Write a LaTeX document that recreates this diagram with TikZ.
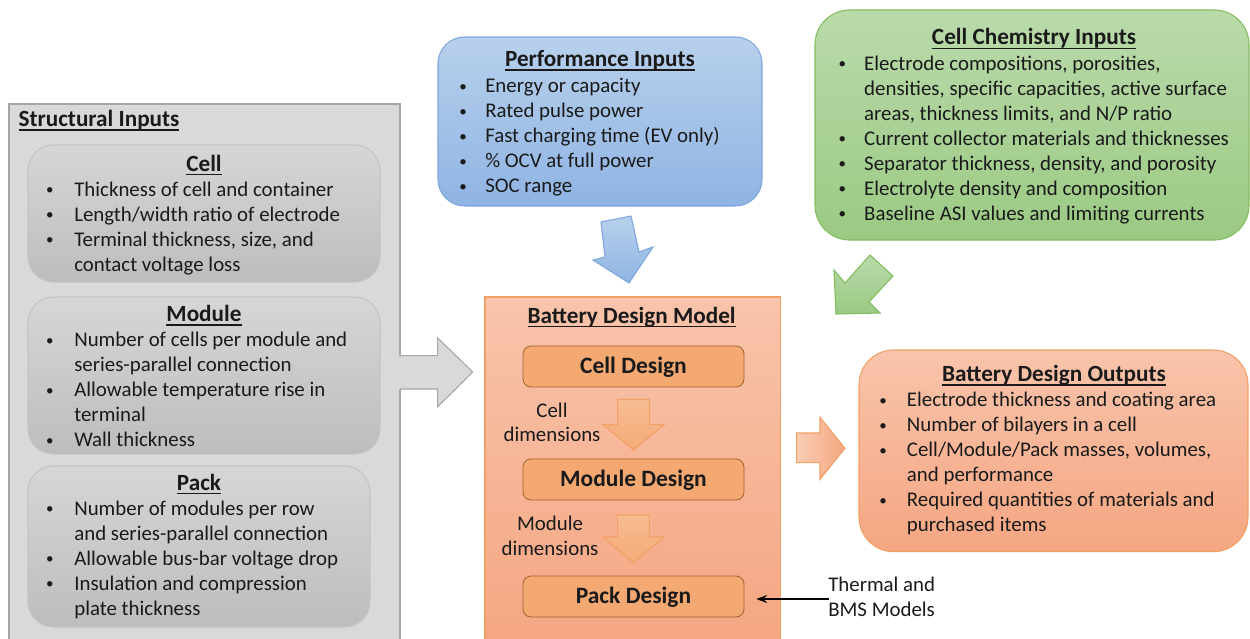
\documentclass[tikz,border=0pt]{standalone}
\usepackage{fontspec}
\usepackage{graphicx}
\setmainfont{Carlito}
\usetikzlibrary{fit,arrows.meta}
\definecolor{txt}{HTML}{1A1A1A}
\definecolor{sgrey}{HTML}{D9D9D9}
\definecolor{sgreyb}{HTML}{A6A6A6}
\definecolor{ggtop}{HTML}{D6D6D6}
\definecolor{ggbot}{HTML}{BDBDBD}
\definecolor{ggb}{HTML}{C4C4C4}
\definecolor{btop}{HTML}{B8D0EC}
\definecolor{bbot}{HTML}{8FB4E3}
\definecolor{bb}{HTML}{7EA6DC}
\definecolor{gtop}{HTML}{BADAAB}
\definecolor{gbot}{HTML}{9BCA83}
\definecolor{gb}{HTML}{82BC60}
\definecolor{otop}{HTML}{F8C4AB}
\definecolor{obot}{HTML}{F5A682}
\definecolor{ob}{HTML}{F2A064}
\definecolor{dfill}{HTML}{F4A972}
\definecolor{db}{HTML}{A3612F}
\definecolor{atop}{HTML}{F7BC92}
\definecolor{abot}{HTML}{F4AA76}
\definecolor{alight}{HTML}{F9CDB3}
\newcommand{\ttl}[1]{\setbox0\hbox{#1}\rlap{\rule[-3pt]{\wd0}{1.1pt}}\box0}
\newcommand{\blist}[2]{\begin{tabular}[t]{@{}p{#1}@{}l@{}}#2\end{tabular}}
\newcommand{\bdot}{\hspace{0.8pt}\raisebox{0.9pt}{\scalebox{0.72}{\textbullet}}}
\newcommand{\bl}{\bdot &}
\tikzset{
  every node/.style={text=txt, inner sep=0pt},
  title/.style={font=\fontsize{17.4}{20}\selectfont\bfseries},
  lst/.style={anchor=base west, font=\fontsize{15.65}{18.75}\selectfont},
  outerbox/.style={draw=sgreyb, fill=sgrey, line width=0.8pt},
  greybox/.style={draw=ggb, top color=ggtop, bottom color=ggbot, rounded corners=19pt, line width=0.8pt},
  bluebox/.style={draw=bb, top color=btop, bottom color=bbot, rounded corners=20pt, line width=0.8pt},
  greenbox/.style={draw=gb, top color=gtop, bottom color=gbot, rounded corners=26pt, line width=0.8pt},
  modelbox/.style={draw=ob, top color=otop, bottom color=obot, line width=0.8pt},
  outbox/.style={draw=ob, top color=otop, bottom color=obot, rounded corners=26pt, line width=0.8pt},
  designbox/.style={draw=db, fill=dfill, rounded corners=6pt, line width=0.6pt},
  dtext/.style={anchor=base, font=\fontsize{17.6}{20}\selectfont\bfseries},
  blockarrow/.style={line width=0.8pt, line join=miter},
  conn/.style={draw=black, line width=1.4pt, -{Stealth[length=8pt,width=6pt]}},
  dimlabel/.style={anchor=base, font=\fontsize{15.65}{18.3}\selectfont},
}
\begin{document}
\begin{tikzpicture}[x=0.75pt,y=-0.75pt]
\useasboundingbox (0,0) rectangle (1250,639);

% ---------- Structural inputs ----------
\node[outerbox, fit={(9,104)(400,642)}] (struct) {};
\fill[sgrey] (398,355.7) -- (437.7,355.7) -- (437.7,338) -- (472.7,372) -- (437.7,406.7) -- (437.7,389) -- (398,389) -- cycle;
\draw[sgreyb, blockarrow] (400,355.7) -- (437.7,355.7) -- (437.7,338) -- (472.7,372) -- (437.7,406.7) -- (437.7,389) -- (400,389);
\node[title, anchor=base west] (structt) at (18.3,126.7) {\ttl{Structural Inputs}};

\node[greybox, fit={(28,145)(380,282)}] (cellin) {};
\node[title, anchor=base] (cellh) at (204,171) {\ttl{Cell}};
\node[lst] (celll) at (44.7,196) {\blist{22pt}{%
\bl Thickness of cell and container\\
\bl Length/width ratio of electrode\\
\bl Terminal thickness, size, and\\
 & contact voltage loss}};

\node[greybox, fit={(28,297)(380,454)}] (modin) {};
\node[title, anchor=base] (modh) at (204,321.7) {\ttl{Module}};
\node[lst] (modl) at (44.7,346.7) {\blist{22pt}{%
\bl Number of cells per module and\\
 & series-parallel connection\\
\bl Allowable temperature rise in\\
 & terminal\\
\bl Wall thickness}};

\node[greybox, fit={(28,466)(370,627)}] (packin) {};
\node[title, anchor=base] (packh) at (199,490) {\ttl{Pack}};
\node[lst] (packl) at (44.7,515) {\blist{22pt}{%
\bl Number of modules per row\\
 & and series-parallel connection\\
\bl Allowable bus-bar voltage drop\\
\bl Insulation and compression\\
 & plate thickness}};

% ---------- Performance inputs ----------
\node[bluebox, fit={(438,37)(762,206)}] (perf) {};
\node[title, anchor=base] (perft) at (600,66.7) {\ttl{Performance Inputs}};
\node[lst] (perfl) at (458,92.7) {\blist{20.25pt}{%
\bl Energy or capacity\\
\bl Rated pulse power\\
\bl Fast charging time (EV only)\\
\bl \% OCV at full power\\
\bl SOC range}};
\draw[bb, blockarrow, top color=btop, bottom color=bbot] (601,222) -- (631,216) -- (639,252) -- (653,247) -- (629,283) -- (593,260) -- (605,257) -- cycle;

% ---------- Cell chemistry inputs ----------
\node[greenbox, fit={(815,10)(1249,240)}] (chem) {};
\node[title, anchor=base] (chemt) at (1034,45) {\ttl{Cell Chemistry Inputs}};
\node[lst] (cheml) at (837.3,70) {\blist{20pt}{%
\bl Electrode compositions, porosities,\\
 & densities, specific capacities, active surface\\
 & areas, thickness limits, and N/P ratio\\
\bl Current collector materials and thicknesses\\
\bl Separator thickness, density, and porosity\\
\bl Electrolyte density and composition\\
\bl Baseline ASI values and limiting currents}};
\draw[gb, blockarrow, top color=gtop, bottom color=gbot] (834,270) -- (845,283) -- (870,255) -- (893,276) -- (869,302) -- (880,313) -- (836,314) -- cycle;

% ---------- Battery design model ----------
\node[modelbox, fit={(485,297)(780.7,645)}] (model) {};
\node[title, anchor=base] (modelt) at (631.7,323.3) {\ttl{Battery Design Model}};
\node[designbox, fit={(523,346)(744,387)}] (celld) {};
\node[dtext] (celldt) at (633.5,373.3) {Cell Design};
\node[designbox, fit={(523,459)(744,500)}] (modd) {};
\node[dtext] (moddt) at (633.5,486.7) {Module Design};
\node[designbox, fit={(523,576)(744,617)}] (packd) {};
\node[dtext] (packdt) at (633.5,603.3) {Pack Design};

\draw[ob, blockarrow, top color=atop, bottom color=abot] (617.7,399.3) -- (649.3,399.3) -- (649.3,424.7) -- (664,424.7) -- (633.5,450) -- (603,424.7) -- (617.7,424.7) -- cycle;
\draw[ob, blockarrow, top color=atop, bottom color=abot] (617.7,515) -- (649.3,515) -- (649.3,537) -- (664,537) -- (633.5,563) -- (603,537) -- (617.7,537) -- cycle;
\node[dimlabel] (celldim) at (552,417.3) {\begin{tabular}[t]{@{}c@{}}Cell\\dimensions\end{tabular}};
\node[dimlabel] (moddim) at (550,530.7) {\begin{tabular}[t]{@{}c@{}}Module\\dimensions\end{tabular}};

% ---------- Thermal ----------
\node[anchor=base west, font=\fontsize{15.65}{18.3}\selectfont] (thermal) at (828,591.7) {\begin{tabular}[t]{@{}l@{}}Thermal and\\BMS Models\end{tabular}};
\draw[conn, shorten >=9pt] ([xshift=1pt]thermal.west) -- (packd.east |- thermal.west);

% ---------- Outputs ----------
\draw[ob, blockarrow, left color=alight, right color=obot] (796.7,433) -- (820,433) -- (820,417.3) -- (845,448.3) -- (820,479.3) -- (820,462.7) -- (796.7,462.7) -- cycle;
\node[outbox, fit={(859,350)(1248,551.7)}] (outp) {};
\node[title, anchor=base] (outt) at (1054,381.7) {\ttl{Battery Design Outputs}};
\node[lst] (outl) at (878,406.7) {\blist{21.5pt}{%
\bl Electrode thickness and coating area\\
\bl Number of bilayers in a cell\\
\bl Cell/Module/Pack masses, volumes,\\
 & and performance\\
\bl Required quantities of materials and\\
 & purchased items}};
\end{tikzpicture}
\end{document}
